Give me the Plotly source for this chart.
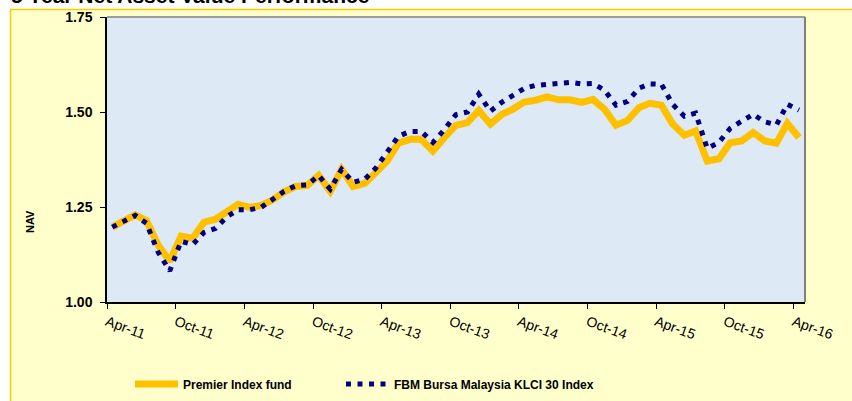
import plotly.graph_objects as go
import pandas as pd

# Monthly observation dates, Apr-2011 .. Apr-2016
dates = pd.date_range("2011-04-01", periods=61, freq="MS") + pd.Timedelta(days=14)

premier_index_fund = [
    1.197, 1.212, 1.229, 1.214, 1.150, 1.107, 1.173, 1.168, 1.210, 1.218,
    1.241, 1.257, 1.249, 1.254, 1.269, 1.290, 1.304, 1.307, 1.333, 1.291,
    1.349, 1.304, 1.312, 1.339, 1.370, 1.418, 1.428, 1.428, 1.397, 1.433,
    1.465, 1.472, 1.504, 1.468, 1.494, 1.507, 1.526, 1.531, 1.540, 1.532,
    1.532, 1.525, 1.533, 1.507, 1.465, 1.478, 1.512, 1.523, 1.518, 1.468,
    1.439, 1.450, 1.371, 1.377, 1.419, 1.424, 1.446, 1.424, 1.418, 1.470,
    1.433,
]

fbm_klci30 = [
    1.197, 1.212, 1.228, 1.207, 1.131, 1.082, 1.160, 1.151, 1.183, 1.194,
    1.225, 1.243, 1.243, 1.249, 1.269, 1.291, 1.306, 1.308, 1.333, 1.297,
    1.349, 1.315, 1.323, 1.351, 1.394, 1.436, 1.449, 1.449, 1.420, 1.454,
    1.493, 1.500, 1.547, 1.502, 1.526, 1.544, 1.562, 1.570, 1.573, 1.576,
    1.578, 1.574, 1.575, 1.557, 1.518, 1.528, 1.563, 1.574, 1.573, 1.520,
    1.489, 1.497, 1.404, 1.420, 1.457, 1.476, 1.494, 1.474, 1.466, 1.520,
    1.505,
]

series_names = ["Premier Index fund", "FBM Bursa Malaysia KLCI 30 Index"]
y_ticks = [1.00, 1.25, 1.50, 1.75]
title_text = "5 Year Net Asset Value Performance"

FONT = "Liberation Sans, Arial, sans-serif"

W, H = 852, 401
L, R, T, B = 107, 47, 17, 99
pw, ph = W - L - R, H - T - B

def px(xp):
    return (xp - L) / pw

def py(yp):
    return (H - B - yp) / ph

fig = go.Figure()
fig.add_trace(go.Scatter(
    x=dates, y=premier_index_fund, name=series_names[0], mode="lines",
    line=dict(color="#FFC000", width=7), legend="legend",
))
fig.add_trace(go.Scatter(
    x=dates, y=fbm_klci30, name=series_names[1], mode="lines",
    line=dict(color="#000080", width=5, dash="5px,6.5px"), legend="legend2",
))

shapes = [
    # white strip on the left and on top (outside the yellow chart box)
    dict(type="rect", xref="paper", yref="paper", x0=px(-5), x1=px(10), y0=py(420), y1=py(-5),
         fillcolor="white", line=dict(width=0), layer="below"),
    dict(type="rect", xref="paper", yref="paper", x0=px(-5), x1=px(860), y0=py(9), y1=py(-5),
         fillcolor="white", line=dict(width=0), layer="below"),
    # gold border of the chart box
    dict(type="line", xref="paper", yref="paper", x0=px(10), x1=px(860), y0=py(9.5), y1=py(9.5),
         line=dict(color="#FFCC00", width=1.5)),
    dict(type="line", xref="paper", yref="paper", x0=px(10.5), x1=px(10.5), y0=py(9), y1=py(420),
         line=dict(color="#FFCC00", width=1.5)),
    # gray plot-area frame (top and right)
    dict(type="line", xref="paper", yref="paper", x0=0, x1=1, y0=1, y1=1,
         line=dict(color="#808080", width=1.5)),
    dict(type="line", xref="paper", yref="paper", x0=1, x1=1, y0=0, y1=1,
         line=dict(color="#808080", width=2)),
]

legend_common = dict(
    orientation="h", yanchor="middle", xanchor="left",
    font=dict(family=FONT, size=12, color="black", weight="bold"),
    bgcolor="rgba(0,0,0,0)", itemwidth=43,
)

fig.update_layout(
    width=W, height=H,
    margin=dict(l=L, r=R, t=T, b=B, autoexpand=False),
    paper_bgcolor="#FFFFCC",
    plot_bgcolor="#DDE9F5",
    shapes=shapes,
    showlegend=True,
    legend=dict(x=px(130), y=py(384), **legend_common),
    legend2=dict(x=px(341), y=py(384), **legend_common),
    annotations=[
        dict(text="<b>" + title_text + "</b>", xref="paper", yref="paper",
             x=px(9), y=py(9), xanchor="left", yanchor="bottom", showarrow=False,
             font=dict(family=FONT, size=21, color="black")),
        dict(text="<b>NAV</b>", xref="paper", yref="paper", x=px(30), y=py(222),
             xanchor="center", yanchor="middle", textangle=-90, showarrow=False,
             font=dict(family=FONT, size=11, color="black")),
    ],
    xaxis=dict(
        type="date", range=["2011-04-01", "2016-05-01"],
        tick0="2011-04-01", dtick="M6", tickformat="%b-%y",
        ticks="outside", ticklen=5, tickcolor="black", tickwidth=1,
        tickangle=20, showgrid=False, zeroline=False, automargin=False,
        showline=True, linecolor="black", linewidth=1.5,
        tickfont=dict(family=FONT, size=14, color="black"),
    ),
    yaxis=dict(
        range=[1.0, 1.75], tickvals=y_ticks, tickformat=".2f",
        ticks="outside", ticklen=5, tickcolor="black", tickwidth=1,
        showgrid=False, zeroline=False, automargin=False,
        showline=True, linecolor="black", linewidth=1.5,
        tickfont=dict(family=FONT, size=14, color="black", weight="bold"),
        ticklabelstandoff=5,
    ),
)

fig.write_html("out.html", config={"displayModeBar": False},
               post_script="document.body.style.margin='0';")
